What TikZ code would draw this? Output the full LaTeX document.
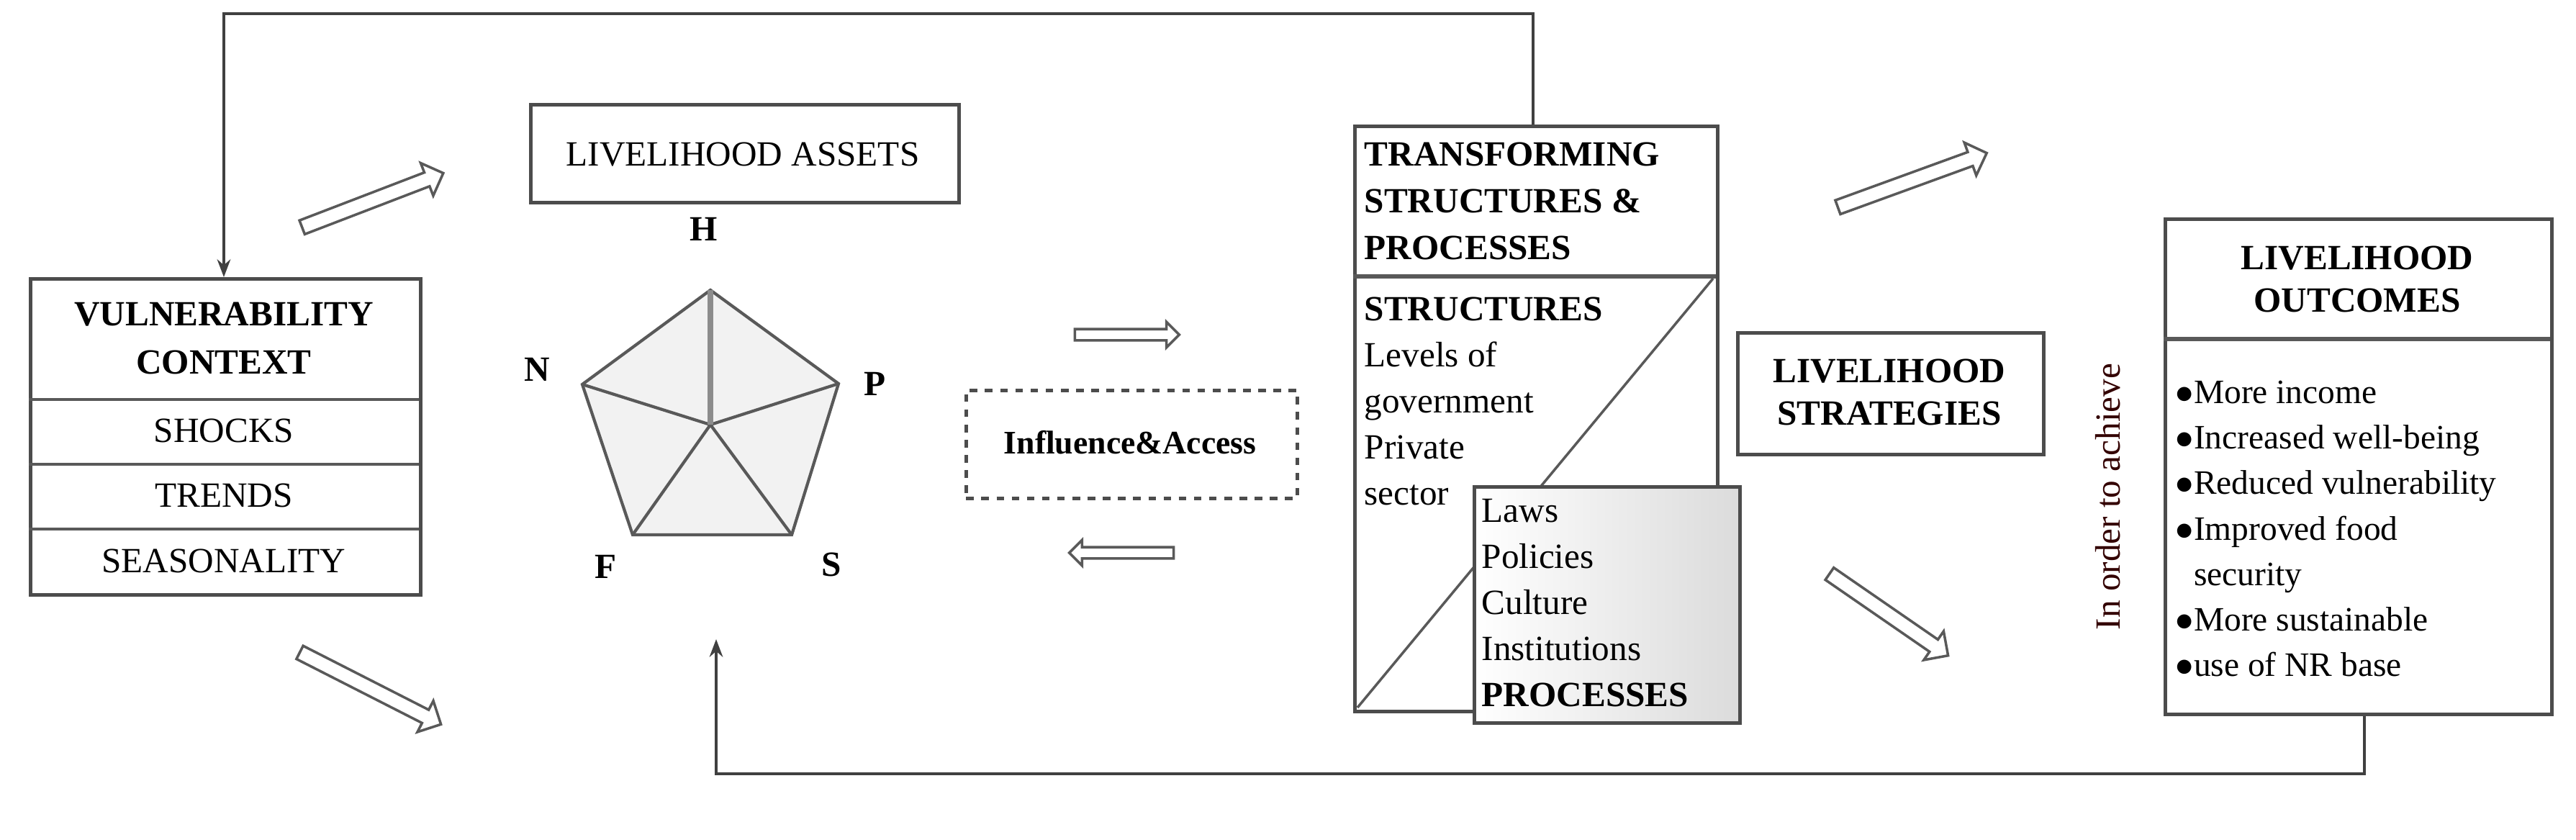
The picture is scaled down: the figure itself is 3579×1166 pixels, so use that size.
\documentclass[tikz,border=0pt]{standalone}
\usepackage{fontspec}
\setmainfont{Liberation Serif}
\usetikzlibrary{arrows.meta,shapes.arrows}
\begin{document}
\begin{tikzpicture}[x=0.01cm,y=-0.01cm,
  every node/.style={font=\fontsize{14}{18}\selectfont},
  box/.style={draw=black!70, line width=1.3pt, inner sep=0pt, anchor=north west},
  harrow/.style={single arrow, draw=black!65, line width=1pt, fill=white, inner sep=0.085cm, single arrow head extend=0.14cm, single arrow head indent=0pt, minimum height=#1, shape border uses incircle=false},
  feed/.style={draw=black!75, line width=1.2pt, -{Stealth[length=7pt]}},
  thin/.style={draw=black!65, line width=1pt},
  lbl/.style={font=\fontsize{14}{18}\selectfont\bfseries}]
\useasboundingbox (0,0) rectangle (3579,1166);
% Vulnerability context
\node[box, minimum width=5.42cm, minimum height=4.39cm] (vc) at (40,385) {};
\draw[thin, line width=1.3pt] (40,555) -- (582,555) (40,645) -- (582,645) (40,735) -- (582,735);
\node[align=center, font=\fontsize{14}{19}\selectfont\bfseries] (vch) at (311,470) {VULNERABILITY\\CONTEXT};
\node (sh) at (311,598) {SHOCKS};
\node (tr) at (311,688) {TRENDS};
\node (se) at (311,779) {SEASONALITY};
% Livelihood assets
\node[box, minimum width=5.95cm, minimum height=1.36cm] (la) at (735,143) {};
\node (lat) at (1032,215) {LIVELIHOOD ASSETS};
% pentagon
\coordinate (pH) at (987,403);
\coordinate (pN) at (809,534);
\coordinate (pP) at (1165,533);
\coordinate (pF) at (879,743);
\coordinate (pS) at (1100,743);
\coordinate (pC) at (987,590);
\fill[black!5] (pH) -- (pP) -- (pS) -- (pF) -- (pN) -- cycle;
\draw[thin, line width=1.2pt] (pH) -- (pP) -- (pS) -- (pF) -- (pN) -- cycle;
\draw[thin, line width=1.2pt] (pC) -- (pN) (pC) -- (pP) (pC) -- (pF) (pC) -- (pS);
\draw[black!45, line width=2pt] (pC) -- (pH);
\node[lbl] (lH) at (978,318) {H};
\node[lbl] (lN) at (746,513) {N};
\node[lbl] (lP) at (1216,533) {P};
\node[lbl] (lF) at (842,787) {F};
\node[lbl] (lS) at (1155,784) {S};
% hollow arrows
\node[harrow=2.1cm, rotate=21] (a1) at (513,280) {};
\node[harrow=2.2cm, rotate=-27] (a2) at (510,954) {};
\node[harrow=1.45cm, inner sep=0.06cm, single arrow head extend=0.1cm] (b1) at (1562,465) {};
\node[harrow=1.45cm, inner sep=0.06cm, single arrow head extend=0.1cm, rotate=180] (b2) at (1562,768) {};
\node[harrow=2.2cm, rotate=20] (c1) at (2652,252) {};
\node[harrow=2.0cm, rotate=-34.6] (c2) at (2620,851) {};
% influence & access
\node[box, dashed, minimum width=4.6cm, minimum height=1.5cm] (ia) at (1340,540) {};
\node[font=\fontsize{13}{16}\selectfont\bfseries] (iat) at (1570,615) {Influence\&Access};
% TSP box
\node[box, minimum width=5.04cm, minimum height=8.13cm] (tsp) at (1880,173) {};
\draw[thin, line width=1.5pt] (1880,384) -- (2384,384);
\coordinate (d1) at (2380,387);
\coordinate (d2) at (1886,983);
\draw[thin, line width=1pt] (d1) -- (d2);
\node[anchor=north west, align=left, font=\fontsize{14}{18.5}\selectfont\bfseries, inner sep=0pt] (tsph) at (1895,197) {TRANSFORMING\\STRUCTURES \&\\PROCESSES};
\node[anchor=north west, align=left, inner sep=0pt, font=\fontsize{14}{18.2}\selectfont] (str) at (1895,412) {\textbf{STRUCTURES}\\Levels of\\government\\Private\\sector};
\node[box, minimum width=3.69cm, minimum height=3.28cm, left color=white, right color=black!14] (pr) at (2046,674) {};
\node[anchor=north west, align=left, inner sep=0pt, font=\fontsize{14}{18.2}\selectfont] (prt) at (2058,693) {Laws\\Policies\\Culture\\Institutions\\\textbf{PROCESSES}};
% Livelihood strategies
\node[box, minimum width=4.25cm, minimum height=1.69cm] (ls) at (2412,460) {};
\node[align=center, font=\fontsize{14}{17}\selectfont\bfseries] (lst) at (2625,545) {LIVELIHOOD\\STRATEGIES};
% In order to achieve
\node[rotate=90, text=black!80!red] (ioa) at (2929,690) {In order to achieve};
% Livelihood outcomes
\node[box, minimum width=5.37cm, minimum height=6.88cm] (lo) at (3006,302) {};
\draw[thin, line width=1.5pt] (3006,471) -- (3543,471);
\node[align=center, font=\fontsize{14}{17}\selectfont\bfseries] (lot) at (3275,388) {LIVELIHOOD\\OUTCOMES};
\node[anchor=north west, align=left, inner sep=0pt, font=\fontsize{13.5}{18}\selectfont] (lob) at (3022,528) {$\bullet$More income\\$\bullet$Increased well-being\\$\bullet$Reduced vulnerability\\$\bullet$Improved food\\\phantom{$\bullet$}security\\$\bullet$More sustainable\\$\bullet$use of NR base};
% feedback loops
\coordinate (t1) at (2130,19);
\coordinate (t2) at (311,19);
\draw[feed] (tsp.north -| t1) -- (t1) -- (t2) -- (t2 |- vc.north);
\coordinate (u1) at (3285,1075);
\coordinate (u2) at (995,1075);
\coordinate (u3) at (995,888);
\draw[feed] (u1 |- lo.south) -- (u1) -- (u2) -- (u3);
\end{tikzpicture}
\end{document}
